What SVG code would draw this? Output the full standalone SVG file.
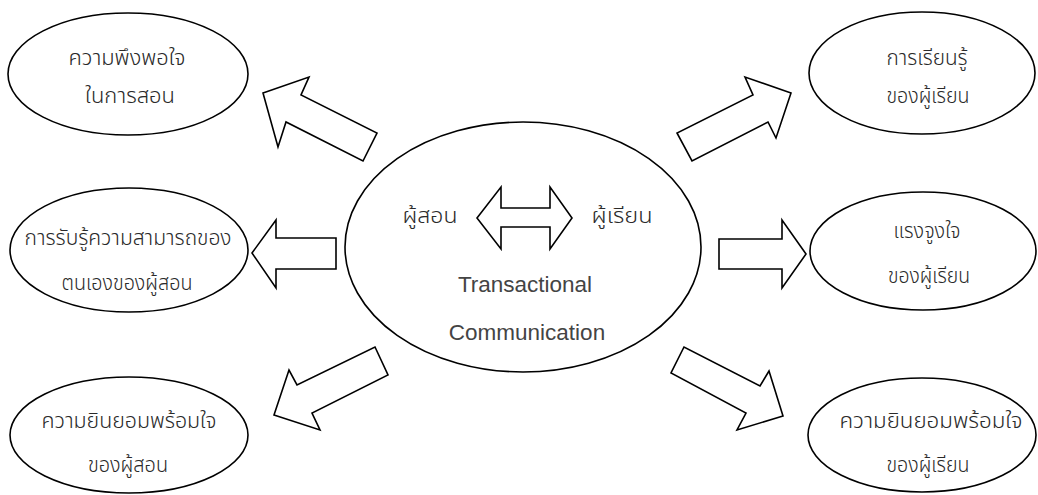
<svg xmlns="http://www.w3.org/2000/svg" width="1038" height="495" viewBox="0 0 1038 495">
<style>
.node ellipse{fill:#fff;stroke:#000;stroke-width:1.6}
.arrow{fill:#fff;stroke:#000;stroke-width:1.6;stroke-linejoin:miter}
text{font-family:"Noto Sans Thai","Noto Sans Thai UI","Noto Sans","Liberation Sans",sans-serif;font-size:21px;font-weight:300;fill:#2a2a2a;text-anchor:middle}
.en{font-family:"Liberation Sans",Arial,sans-serif;font-size:22.5px;font-weight:normal;fill:#444}
</style>
<rect width="1038" height="495" fill="#fff"/>
<g id="center" class="node">
<ellipse cx="523" cy="247" rx="178" ry="125"/>
<text x="430" y="223" textLength="55" lengthAdjust="spacingAndGlyphs">ผู้สอน</text>
<text x="622" y="223" textLength="61" lengthAdjust="spacingAndGlyphs">ผู้เรียน</text>
<text class="en" x="525" y="292">Transactional</text>
<text class="en" x="527" y="340">Communication</text>
</g>
<g id="n1" class="node">
<ellipse cx="128" cy="74" rx="120" ry="61"/>
<text x="127" y="65" textLength="117" lengthAdjust="spacingAndGlyphs">ความพึงพอใจ</text>
<text x="130" y="103" textLength="90" lengthAdjust="spacingAndGlyphs">ในการสอน</text>
</g>
<g id="n2" class="node">
<ellipse cx="922" cy="73" rx="113" ry="61"/>
<text x="927" y="65" textLength="81" lengthAdjust="spacingAndGlyphs">การเรียนรู้</text>
<text x="928" y="103" textLength="83" lengthAdjust="spacingAndGlyphs">ของผู้เรียน</text>
</g>
<g id="n3" class="node">
<ellipse cx="129" cy="250" rx="119" ry="62"/>
<text x="128" y="245" textLength="207" lengthAdjust="spacingAndGlyphs">การรับรู้ความสามารถของ</text>
<text x="127" y="290" textLength="131" lengthAdjust="spacingAndGlyphs">ตนเองของผู้สอน</text>
</g>
<g id="n4" class="node">
<ellipse cx="923" cy="251" rx="113" ry="59"/>
<text x="927" y="238" textLength="67" lengthAdjust="spacingAndGlyphs">แรงจูงใจ</text>
<text x="929" y="283" textLength="82" lengthAdjust="spacingAndGlyphs">ของผู้เรียน</text>
</g>
<g id="n5" class="node">
<ellipse cx="129" cy="435" rx="119" ry="58"/>
<text x="129" y="428" textLength="175" lengthAdjust="spacingAndGlyphs">ความยินยอมพร้อมใจ</text>
<text x="128" y="472" textLength="80" lengthAdjust="spacingAndGlyphs">ของผู้สอน</text>
</g>
<g id="n6" class="node">
<ellipse cx="922" cy="435" rx="114" ry="57"/>
<text x="931" y="428" textLength="183" lengthAdjust="spacingAndGlyphs">ความยินยอมพร้อมใจ</text>
<text x="928" y="472" textLength="83" lengthAdjust="spacingAndGlyphs">ของผู้เรียน</text>
</g>
<g id="connectors">
<polygon class="arrow" points="477,218 501,187 501,208 550,208 550,187 572,218 550,249 550,227 501,227 501,249"/>
<polygon class="arrow" points="263,93 309,77 301,95 377,133 363,161 286,122 278,147"/>
<polygon class="arrow" points="791,93 745,77 753,95 677,133 692,161 768,122 776,138"/>
<polygon class="arrow" points="252,253 276,220 276,238 336,238 336,269 276,269 276,288"/>
<polygon class="arrow" points="806,254 782,220 782,239 719,239 719,269 782,269 782,288"/>
<polygon class="arrow" points="274,415 289,370 297,385 375,347 388,375 312,413 320,430"/>
<polygon class="arrow" points="783,416 769,371 760,386 684,347 671,373 746,413 737,430"/>
</g>
</svg>
